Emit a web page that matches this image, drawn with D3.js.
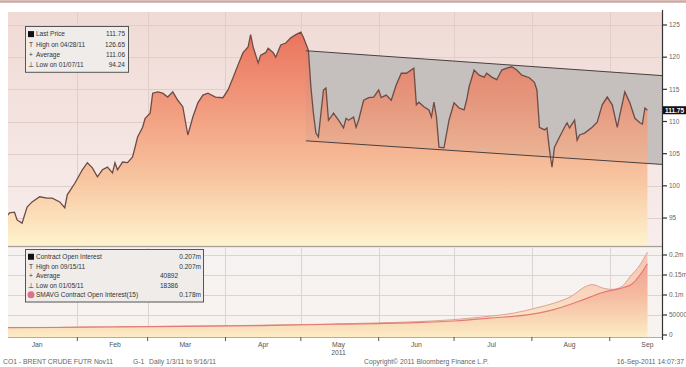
<!DOCTYPE html>
<html><head><meta charset="utf-8">
<script src="https://cdn.jsdelivr.net/npm/d3@7"></script>
<style>body{margin:0;background:#fff}svg{display:block}text{font-family:"Liberation Sans",Arial,sans-serif}</style>
</head><body><svg id="c" width="686" height="367"></svg>
<script>
const priceDates = ["2011-01-04","2011-01-05","2011-01-07","2011-01-08","2011-01-10","2011-01-12","2011-01-14","2011-01-17","2011-01-20","2011-01-22","2011-01-25","2011-01-27","2011-01-28","2011-01-31",
"2011-02-03","2011-02-05","2011-02-07","2011-02-09","2011-02-11","2011-02-13","2011-02-15","2011-02-16","2011-02-17","2011-02-19","2011-02-21","2011-02-23","2011-02-24","2011-02-25","2011-02-27","2011-02-28",
"2011-03-02","2011-03-03","2011-03-05","2011-03-07","2011-03-09","2011-03-11","2011-03-13","2011-03-15","2011-03-17","2011-03-19","2011-03-21","2011-03-23","2011-03-25","2011-03-28","2011-03-31",
"2011-04-02","2011-04-04","2011-04-06","2011-04-08","2011-04-10","2011-04-11","2011-04-12","2011-04-14","2011-04-15","2011-04-17","2011-04-18","2011-04-20","2011-04-21","2011-04-23","2011-04-25","2011-04-27","2011-04-29",
"2011-05-01","2011-05-02","2011-05-04","2011-05-05","2011-05-06","2011-05-07","2011-05-08","2011-05-10","2011-05-11","2011-05-12","2011-05-13","2011-05-14","2011-05-16","2011-05-18","2011-05-19","2011-05-20","2011-05-22","2011-05-23","2011-05-24","2011-05-26","2011-05-28","2011-05-30",
"2011-06-01","2011-06-02","2011-06-04","2011-06-06","2011-06-08","2011-06-10","2011-06-12","2011-06-15","2011-06-16","2011-06-17","2011-06-19","2011-06-21","2011-06-22","2011-06-23","2011-06-24","2011-06-25","2011-06-27","2011-06-29",
"2011-07-01","2011-07-03","2011-07-05","2011-07-06","2011-07-07","2011-07-09","2011-07-11","2011-07-13","2011-07-14","2011-07-16","2011-07-18","2011-07-20","2011-07-22","2011-07-24","2011-07-26","2011-07-28","2011-07-31",
"2011-08-02","2011-08-03","2011-08-04","2011-08-06","2011-08-07","2011-08-08","2011-08-09","2011-08-10","2011-08-12","2011-08-14","2011-08-15","2011-08-16","2011-08-18","2011-08-19","2011-08-20","2011-08-22","2011-08-25","2011-08-27","2011-08-29","2011-08-31",
"2011-09-02","2011-09-04","2011-09-05","2011-09-07","2011-09-09","2011-09-11","2011-09-13","2011-09-14","2011-09-15","2011-09-16"];
const priceValues = [95.3,95.8,95.9,94.7,94.2,96.7,97.5,98.3,98.1,98.1,97.5,96.6,98.6,100.4,
102.5,103.6,102.8,101.4,102.5,102.9,102.0,103.6,102.5,103.7,103.6,104.5,106.0,107.6,109.1,110.5,
111.3,114.4,114.6,114.4,113.8,114.6,113.3,112.3,107.9,110.7,112.9,114.1,114.4,113.8,113.7,
114.9,116.8,118.8,120.7,121.6,123.5,121.6,119.1,120.3,120.7,121.4,120.7,120.0,121.9,122.2,123.0,123.5,
123.9,123.1,121.1,115.4,111.3,108.2,107.6,114.9,115.2,110.2,110.7,111.3,110.2,109.0,110.5,110.2,110.7,109.1,110.2,113.3,113.7,113.8,
114.9,113.7,114.1,113.3,115.7,117.5,117.5,118.3,112.6,113.0,112.3,111.8,110.7,113.0,110.7,106.0,105.9,110.2,
112.9,112.1,111.8,113.3,115.4,118.0,117.2,116.9,117.5,116.9,116.5,118.0,118.3,118.5,118.0,117.2,116.8,
116.1,114.9,109.1,108.7,109.0,105.6,102.9,106.0,107.6,109.1,109.8,109.0,110.2,107.1,107.9,108.2,109.1,109.9,112.6,113.8,
112.6,109.1,111.0,114.6,112.9,110.5,109.8,109.6,112.1,111.75];

const oiDates = ["2011-01-04","2011-01-20","2011-02-07","2011-02-25","2011-03-15","2011-04-01","2011-04-20","2011-05-10","2011-05-31","2011-06-15","2011-06-30","2011-07-12","2011-07-25","2011-08-03","2011-08-10","2011-08-17","2011-08-22","2011-08-25","2011-08-30","2011-09-02","2011-09-06","2011-09-09","2011-09-13","2011-09-16"];
const oiValues = [18386,19000,20000,21000,22000,23000,25000,27000,30000,33000,38000,45000,55000,68000,80000,98000,120000,126000,116000,114000,122000,145000,175000,207000];
const smaDates = ["2011-01-04","2011-01-24","2011-02-15","2011-03-15","2011-04-15","2011-05-15","2011-06-15","2011-07-01","2011-07-15","2011-08-01","2011-08-10","2011-08-20","2011-08-30","2011-09-05","2011-09-10","2011-09-16"];
const smaValues = [18400,18800,20000,21500,23500,27000,31000,35000,42000,52000,64000,85000,108000,116000,128000,178000];

const channelDates = ["2011-05-03","2011-09-23"];
const channelUpper = [121.0,117.1];
const channelLower = [107.0,103.3];

const priceTicks = [95,100,105,110,115,120,125];
const oiTicks = [0,50000,100000,150000,200000];
const oiTickLabels = ["0","50000","0.1m","0.15m","0.2m"];
const monthLabels = ["Jan","Feb","Mar","Apr","May","Jun","Jul","Aug","Sep"];
const lastPrice = 111.75;

const legend1Labels = ["Last Price","High on 04/28/11","Average","Low on 01/07/11"];
const legend1Values = ["111.75","126.65","111.06","94.24"];
const legend2Labels = ["Contract Open Interest","High on 09/15/11","Average","Low on 01/05/11","SMAVG Contract Open Interest(15)"];
const legend2Values = ["0.207m","0.207m","40892","18386","0.178m"];
const footerParts = ["CO1 - BRENT CRUDE FUTR Nov11","G-1","Daily 1/3/11 to 9/16/11"];
const footerMid = "Copyright© 2011 Bloomberg Finance L.P.";
const footerRight = "16-Sep-2011 14:07:37";

const svg = d3.select("#c");
const L=8,R=662,T1=12,B1=245,T2=248,B2=337;
const parse = d3.timeParse("%Y-%m-%d");
const x = d3.scaleTime().domain([parse("2011-01-04"),parse("2011-09-23")]).range([7,665]);
const y1 = d3.scaleLinear().domain([95,125]).range([218,25]);
const y2 = d3.scaleLinear().domain([0,200000]).range([335,255]);

const price = priceDates.map((d,i)=>({d:parse(d),v:priceValues[i]}));
const oi = oiDates.map((d,i)=>({d:parse(d),v:oiValues[i]}));
const sma = smaDates.map((d,i)=>({d:parse(d),v:smaValues[i]}));

const defs = svg.append("defs");
function grad(id,y1v,y2v,stops){
  const g=defs.append("linearGradient").attr("id",id).attr("gradientUnits","userSpaceOnUse")
    .attr("x1",0).attr("x2",0).attr("y1",y1v).attr("y2",y2v);
  stops.forEach(s=>g.append("stop").attr("offset",s[0]).attr("stop-color",s[1]));
}
grad("bg1",T1,B1,[[0,"#f0dad5"],[1,"#f7eeec"]]);
grad("area1",30,B1,[[0,"#ea735c"],[0.35,"#f19a7d"],[0.7,"#f8c6a1"],[1,"#fdf3cd"]]);
grad("bg2",T2,B2,[[0,"#f6f2f2"],[1,"#f8f3ee"]]);
grad("area2",250,B2,[[0,"#f6c2b0"],[0.5,"#f9d6bd"],[1,"#fdf1c9"]]);
grad("area3",255,B2,[[0,"#ee9583"],[0.5,"#f5b69c"],[1,"#fcebc4"]]);
defs.append("clipPath").attr("id","cp1").append("rect").attr("x",L).attr("y",T1).attr("width",R-L).attr("height",B1-T1);
defs.append("clipPath").attr("id","cp2").append("rect").attr("x",L).attr("y",T2).attr("width",R-L).attr("height",B2-T2);

svg.append("line").attr("x1",0).attr("x2",686).attr("y1",1.5).attr("y2",1.5).attr("stroke","#cda7a2").attr("stroke-width",2.5);

// ---- main panel
svg.append("rect").attr("x",L).attr("y",T1).attr("width",R-L).attr("height",B1-T1).attr("fill","url(#bg1)");
const g1 = svg.append("g").attr("clip-path","url(#cp1)");
const months = d3.timeMonth.range(parse("2011-02-01"),parse("2011-09-02"));
g1.selectAll(".hg").data(priceTicks).join("line").attr("x1",L).attr("x2",R)
  .attr("y1",d=>Math.round(y1(d))+0.5).attr("y2",d=>Math.round(y1(d))+0.5).attr("stroke","#e3cdc8").attr("stroke-width",1);
g1.selectAll(".vg").data(months).join("line").attr("y1",T1).attr("y2",B1)
  .attr("x1",d=>Math.round(x(d))+0.5).attr("x2",d=>Math.round(x(d))+0.5).attr("stroke","#e3cdc8");

const ch = channelDates.map((d,i)=>({d:parse(d),u:channelUpper[i],l:channelLower[i]}));
const chArea = d3.area().x(d=>x(d.d)).y0(d=>y1(d.l)).y1(d=>y1(d.u));
g1.append("path").datum(ch).attr("d",chArea).attr("fill","#cbc5c3");

const area1 = d3.area().x(d=>x(d.d)).y0(B1).y1(d=>y1(d.v));
g1.append("path").datum(price).attr("d",area1).attr("fill","url(#area1)");
g1.append("path").datum(ch).attr("d",chArea).attr("fill","#9a9490").attr("opacity",0.12);
g1.append("path").datum(price).attr("d",d3.line().x(d=>x(d.d)).y(d=>y1(d.v)))
  .attr("fill","none").attr("stroke","#6e4c46").attr("stroke-width",1.3);
g1.append("path").datum(ch).attr("d",d3.line().x(d=>x(d.d)).y(d=>y1(d.u))).attr("fill","none").attr("stroke","#4a4040").attr("stroke-width",1);
g1.append("path").datum(ch).attr("d",d3.line().x(d=>x(d.d)).y(d=>y1(d.l))).attr("fill","none").attr("stroke","#4a4040").attr("stroke-width",1);

svg.append("line").attr("x1",L).attr("x2",R).attr("y1",B1+1.5).attr("y2",B1+1.5).attr("stroke","#a89c9a").attr("stroke-width",1.5);

// ---- lower panel
svg.append("rect").attr("x",L).attr("y",T2).attr("width",R-L).attr("height",B2-T2).attr("fill","url(#bg2)");
const g2 = svg.append("g").attr("clip-path","url(#cp2)");
g2.selectAll(".hg2").data(oiTicks.slice(1)).join("line").attr("x1",L).attr("x2",R)
  .attr("y1",d=>Math.round(y2(d))+0.5).attr("y2",d=>Math.round(y2(d))+0.5).attr("stroke","#ddd3d3");
g2.selectAll(".vg2").data(months).join("line").attr("y1",T2).attr("y2",B2)
  .attr("x1",d=>Math.round(x(d))+0.5).attr("x2",d=>Math.round(x(d))+0.5).attr("stroke","#ddd3d3");
g2.append("path").datum(oi).attr("d",d3.area().x(d=>x(d.d)).y0(B2).y1(d=>y2(d.v)).curve(d3.curveMonotoneX)).attr("fill","url(#area2)");
g2.append("path").datum(oi).attr("d",d3.line().x(d=>x(d.d)).y(d=>y2(d.v)).curve(d3.curveMonotoneX)).attr("fill","none").attr("stroke","#d8a494").attr("stroke-width",1);
g2.append("path").datum(sma).attr("d",d3.area().x(d=>x(d.d)).y0(B2).y1(d=>y2(d.v)).curve(d3.curveMonotoneX)).attr("fill","url(#area3)").attr("opacity",0.85);
g2.append("path").datum(sma).attr("d",d3.line().x(d=>x(d.d)).y(d=>y2(d.v)).curve(d3.curveMonotoneX)).attr("fill","none").attr("stroke","#e47a78").attr("stroke-width",1.2);
svg.append("line").attr("x1",L).attr("x2",R).attr("y1",B2+0.5).attr("y2",B2+0.5).attr("stroke","#b5aaa8");

// ---- right axis
svg.append("line").attr("x1",R+0.5).attr("x2",R+0.5).attr("y1",T1-2).attr("y2",B2+3).attr("stroke","#333").attr("stroke-width",1.2);
const ax1 = svg.append("g");
ax1.selectAll("line").data(priceTicks).join("line").attr("x1",R).attr("x2",R+5).attr("y1",d=>y1(d)).attr("y2",d=>y1(d)).attr("stroke","#333").attr("stroke-width",1.2);
ax1.selectAll("text").data(priceTicks).join("text").attr("x",R+7).attr("y",d=>y1(d)).attr("dy","0.35em")
  .attr("font-size",6.5).attr("fill","#666").text(d=>d);
const ax2 = svg.append("g");
ax2.selectAll("line").data(oiTicks).join("line").attr("x1",R).attr("x2",R+5).attr("y1",d=>y2(d)).attr("y2",d=>y2(d)).attr("stroke","#333").attr("stroke-width",1.2);
ax2.selectAll("text").data(oiTicks).join("text").attr("x",R+7).attr("y",d=>y2(d)).attr("dy","0.35em")
  .attr("font-size",6.5).attr("fill","#666").text((d,i)=>oiTickLabels[i]);
svg.append("rect").attr("x",R+1).attr("y",y1(lastPrice)-4).attr("width",23).attr("height",8).attr("fill","#111");
svg.append("text").attr("x",R+12.5).attr("y",y1(lastPrice)).attr("dy","0.35em").attr("text-anchor","middle")
  .attr("font-size",6.5).attr("font-weight","bold").attr("fill","#fff").text(lastPrice.toFixed(2));

// ---- x axis
svg.selectAll(".xt").data(months).join("line").attr("x1",d=>x(d)).attr("x2",d=>x(d)).attr("y1",B2).attr("y2",B2+4).attr("stroke","#555");
const mids = d3.timeMonth.range(parse("2011-01-01"),parse("2011-09-02")).map(m=>d3.timeDay.offset(m,15));
svg.selectAll(".xl").data(mids).join("text").attr("x",d=>x(d)).attr("y",347).attr("text-anchor","middle")
  .attr("font-size",6.8).attr("fill","#555").text((d,i)=>monthLabels[i]);
svg.append("text").attr("x",x(mids[4])).attr("y",355).attr("text-anchor","middle").attr("font-size",6.8).attr("fill","#555").text("2011");

// ---- footer
const fx = [3,133,149];
footerParts.forEach((t,i)=>svg.append("text").attr("x",fx[i]).attr("y",364).attr("font-size",6.8).attr("fill","#666").text(t));
svg.append("text").attr("x",364).attr("y",364).attr("font-size",6.8).attr("fill","#666").text(footerMid);
svg.append("text").attr("x",684).attr("y",364).attr("text-anchor","end").attr("font-size",6.8).attr("fill","#666").text(footerRight);

// ---- legends
function legend(x0,y0,w,rowH,labels,values,valX,markers,valAnchor){
  const g=svg.append("g");
  g.append("rect").attr("x",x0+0.5).attr("y",y0+0.5).attr("width",w).attr("height",rowH*labels.length+5)
    .attr("fill","#efecea").attr("stroke","#555").attr("stroke-width",1);
  labels.forEach((t,i)=>{
    const cy=y0+3+rowH*(i+0.5);
    const m=markers[i];
    if(m==="sq") g.append("rect").attr("x",x0+3).attr("y",cy-3).attr("width",6).attr("height",6).attr("fill","#111");
    else if(m==="dot") g.append("circle").attr("cx",x0+6).attr("cy",cy).attr("r",3.5).attr("fill","#e0708a");
    else g.append("text").attr("x",x0+6).attr("y",cy).attr("dy","0.35em").attr("text-anchor","middle").attr("font-size",6.5).attr("fill","#333").text(m);
    g.append("text").attr("x",x0+11).attr("y",cy).attr("dy","0.35em").attr("font-size",6.5).attr("fill","#333").text(t);
    g.append("text").attr("x",valX[i]).attr("y",cy).attr("dy","0.35em").attr("text-anchor",valAnchor[i]).attr("font-size",6.5).attr("fill","#333").text(values[i]);
  });
}
legend(25,26,103,10.2,legend1Labels,legend1Values,[125,125,125,125],["sq","T","+","⊥"],["end","end","end","end"]);
legend(25,249,178,9.5,legend2Labels,legend2Values,[201,201,160,160,201],["sq","T","+","⊥","dot"],["end","end","start","start","end"]);
</script></body></html>
